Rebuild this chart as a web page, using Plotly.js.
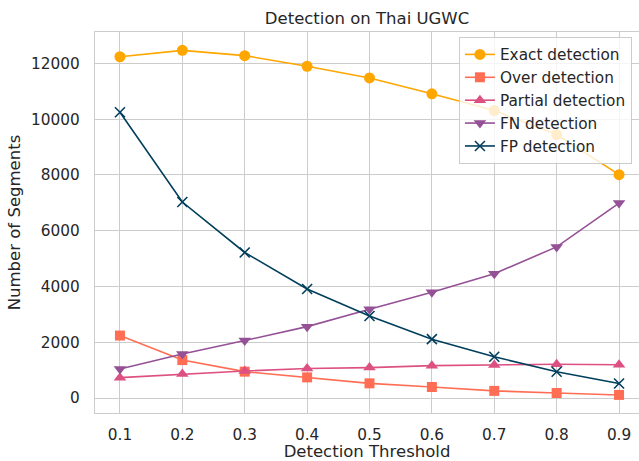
<!DOCTYPE html>
<html><head><meta charset="utf-8">
<script src="https://cdn.plot.ly/plotly-3.0.1.min.js"></script>
<style>html,body{margin:0;padding:0;background:#fff}#chart{width:639px;height:461px}</style>
</head><body><div id="chart"></div>
<script>
const thresholds = [0.1, 0.2, 0.3, 0.4, 0.5, 0.6, 0.7, 0.8, 0.9];
const exactDetection = [12240, 12470, 12280, 11900, 11480, 10910, 10310, 9450, 8010];
const overDetection = [2240, 1360, 945, 740, 525, 395, 255, 180, 110];
const partialDetection = [730, 860, 970, 1060, 1090, 1160, 1180, 1210, 1190];
const fnDetection = [1040, 1580, 2060, 2560, 3180, 3790, 4460, 5420, 6990];
const fpDetection = [10250, 7030, 5220, 3910, 2940, 2110, 1480, 940, 520];
const tickLabels = ['0.1','0.2','0.3','0.4','0.5','0.6','0.7','0.8','0.9'];

const series = [
  {name: 'Exact detection', y: exactDetection, color: '#ffa600', symbol: 'circle', size: 11},
  {name: 'Over detection', y: overDetection, color: '#ff6e54', symbol: 'square', size: 10},
  {name: 'Partial detection', y: partialDetection, color: '#dd5182', symbol: 'triangle-up', size: 11},
  {name: 'FN detection', y: fnDetection, color: '#955196', symbol: 'triangle-down', size: 11},
  {name: 'FP detection', y: fpDetection, color: '#003f5c', symbol: 'x-thin-open', size: 10}
];

const font = {family: 'DejaVu Sans, sans-serif', color: '#262626'};
const traces = series.map(s => ({
  type: 'scatter', mode: 'lines+markers', name: s.name,
  x: thresholds, y: s.y,
  line: {color: s.color, width: 1.6},
  marker: {color: s.color, symbol: s.symbol, size: s.size, line: {color: s.color, width: s.symbol === 'x-thin-open' ? 1.6 : 0}}
}));

const layout = {
  width: 639, height: 461,
  margin: {l: 95, r: 0, t: 32, b: 48},
  paper_bgcolor: '#ffffff', plot_bgcolor: '#ffffff',
  font: Object.assign({size: 15.3}, font),
  title: {text: 'Detection on Thai UGWC', font: Object.assign({size: 16.5}, font), x: 0.5, xanchor: 'center', xref: 'paper', y: 0.961, yanchor: 'middle'},
  xaxis: {
    range: [0.06, 0.932], tickvals: thresholds, ticktext: tickLabels,
    showgrid: true, gridcolor: '#cccccc', gridwidth: 1, zeroline: false,
    showline: true, linecolor: '#cccccc', linewidth: 1.3, mirror: true,
    ticks: '', ticklabelstandoff: 7, tickfont: Object.assign({size: 15.3}, font),
    title: {text: 'Detection Threshold', font: Object.assign({size: 16.5}, font), standoff: 6}
  },
  yaxis: {
    range: [-538, 13128], tickvals: [0, 2000, 4000, 6000, 8000, 10000, 12000],
    ticktext: ['0','2000','4000','6000','8000','10000','12000'],
    showgrid: true, gridcolor: '#cccccc', gridwidth: 1, zeroline: false,
    showline: true, linecolor: '#cccccc', linewidth: 1.3, mirror: true,
    ticks: '', ticklabelstandoff: 11, tickfont: Object.assign({size: 15.3}, font),
    title: {text: 'Number of Segments', font: Object.assign({size: 16.5}, font), standoff: 6}
  },
  legend: {
    x: 0.987, xanchor: 'right', y: 0.987, yanchor: 'top',
    bgcolor: 'rgba(255,255,255,0.8)', bordercolor: '#cccccc', borderwidth: 1,
    font: Object.assign({size: 15.3}, font), tracegroupgap: 0
  },
  showlegend: true
};

Plotly.newPlot('chart', traces, layout, {displayModeBar: false, staticPlot: true});
</script></body></html>
